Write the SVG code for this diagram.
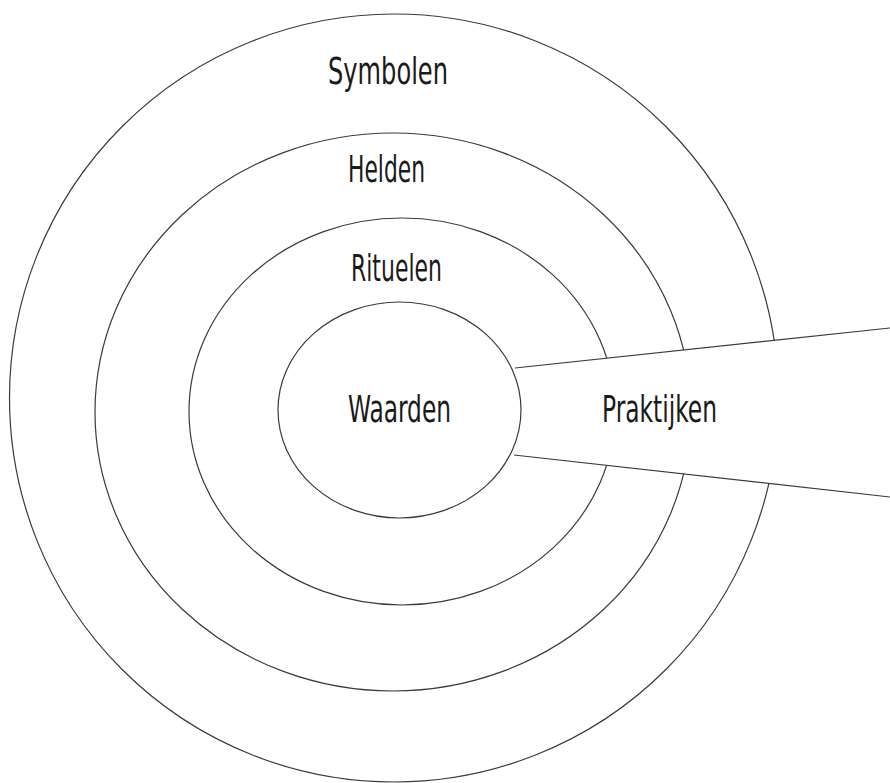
<svg xmlns="http://www.w3.org/2000/svg" width="890" height="783" viewBox="0 0 890 783">
  <style>
    .ring { fill: none; stroke: #3a3a3a; stroke-width: 1.2; }
    .edge { fill: none; stroke: #3a3a3a; stroke-width: 1.2; }
    .lbl { font-family: "Liberation Sans Narrow", "DejaVu Sans Condensed", "Liberation Sans", sans-serif; font-size: 38px; fill: #1a1a1a; }
  </style>
  <defs>
    <clipPath id="noWedge">
      <path clip-rule="evenodd" d="M0 0 H890 V783 H0 Z M515 368 L890 328 L890 497 L514 455 Z"/>
    </clipPath>
  </defs>
  <rect width="890" height="783" fill="#ffffff"/>

  <g id="symbolen">
    <ellipse class="ring" cx="394" cy="398" rx="384.5" ry="384" clip-path="url(#noWedge)"/>
    <text class="lbl" x="328" y="84" textLength="120" lengthAdjust="spacingAndGlyphs">Symbolen</text>
  </g>
  <g id="helden">
    <ellipse class="ring" cx="393" cy="412" rx="298" ry="279" clip-path="url(#noWedge)"/>
    <text class="lbl" x="348" y="182" textLength="77" lengthAdjust="spacingAndGlyphs">Helden</text>
  </g>
  <g id="rituelen">
    <ellipse class="ring" cx="402" cy="411.5" rx="213" ry="193.5" clip-path="url(#noWedge)"/>
    <text class="lbl" x="351" y="281" textLength="91" lengthAdjust="spacingAndGlyphs">Rituelen</text>
  </g>
  <g id="waarden">
    <ellipse class="ring" cx="399.5" cy="410" rx="121.5" ry="108"/>
    <text class="lbl" x="348" y="422" textLength="103" lengthAdjust="spacingAndGlyphs">Waarden</text>
  </g>
  <g id="praktijken">
    <text class="lbl" x="602" y="422" textLength="115" lengthAdjust="spacingAndGlyphs">Praktijken</text>
  </g>

  <g id="connectors">
    <line class="edge" x1="515" y1="368" x2="890" y2="328"/>
    <line class="edge" x1="514" y1="455" x2="890" y2="497"/>
  </g>
</svg>
